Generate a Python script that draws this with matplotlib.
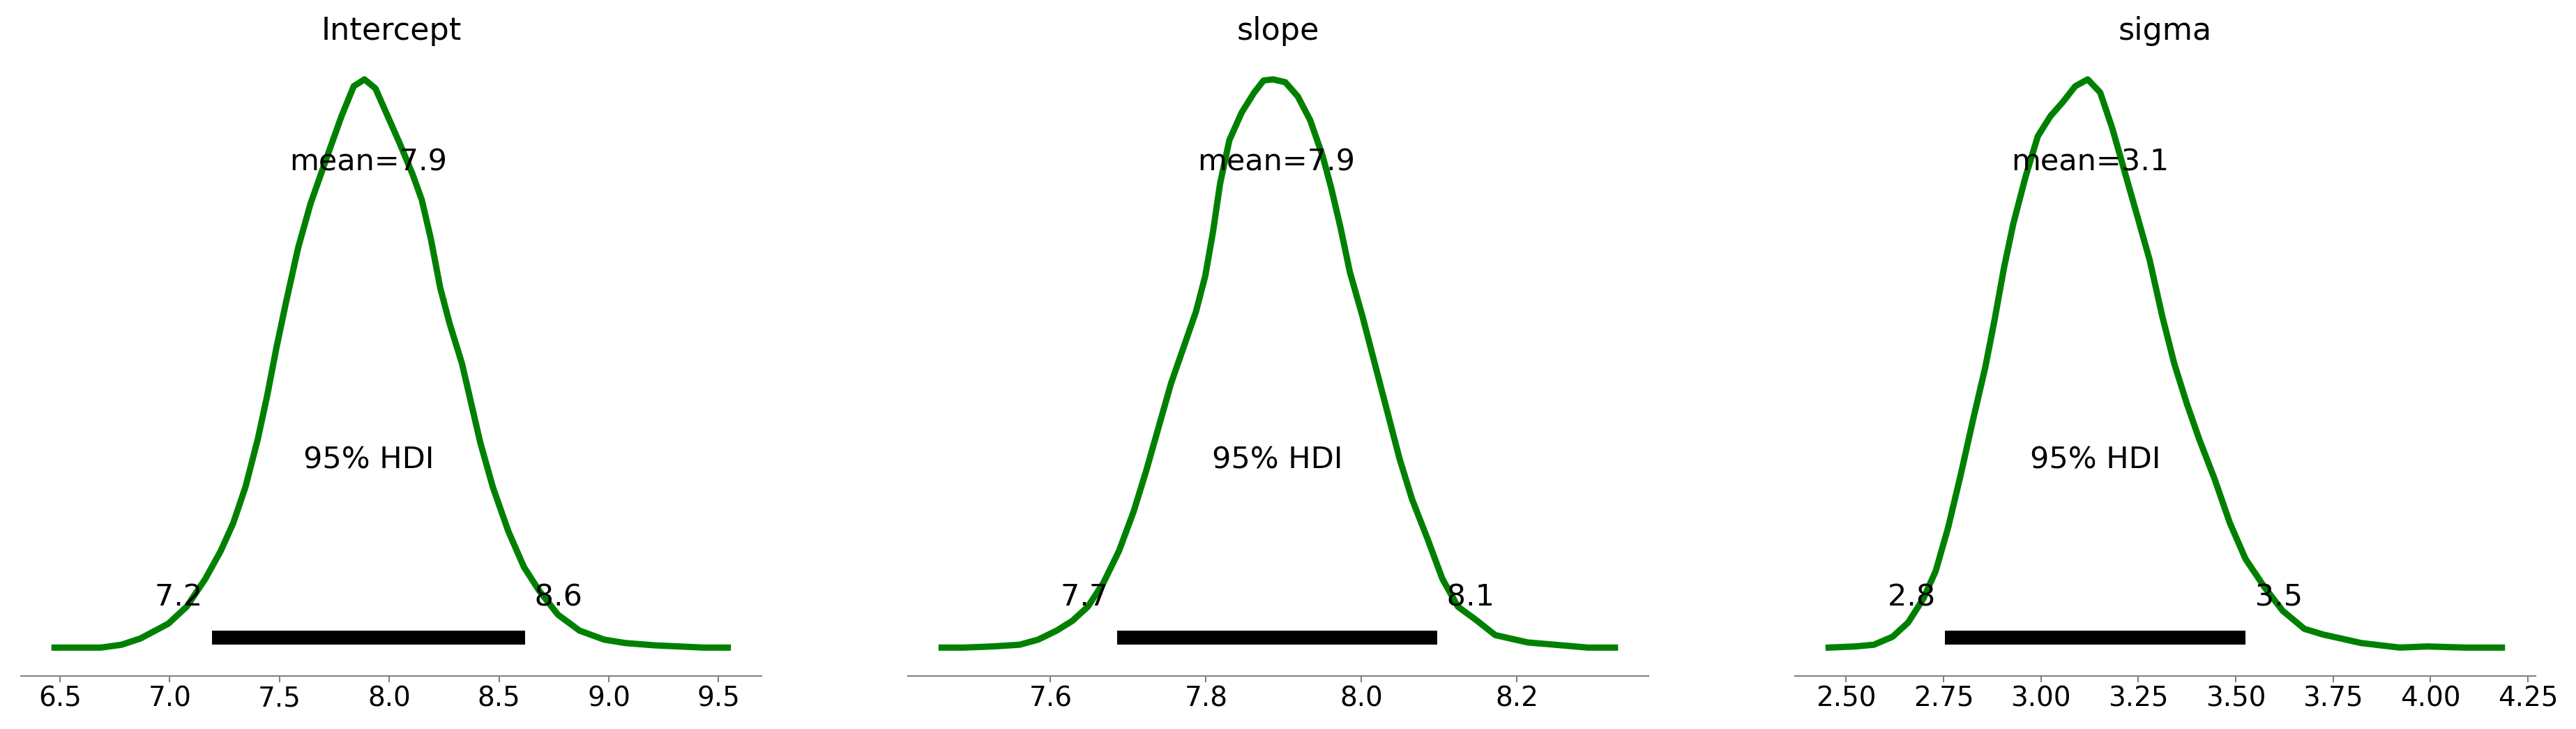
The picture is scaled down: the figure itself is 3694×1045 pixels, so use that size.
import matplotlib.pyplot as plt

# posterior densities (density scaled so peak = 1)
titles = ["Intercept", "slope", "sigma"]

x_intercept = [6.475, 6.686, 6.780, 6.866, 6.993, 7.077, 7.162, 7.232, 7.289, 7.345,
               7.401, 7.444, 7.486, 7.528, 7.585, 7.641, 7.711, 7.782, 7.838, 7.887,
               7.937, 7.993, 8.049, 8.106, 8.148, 8.190, 8.232, 8.275, 8.331, 8.373,
               8.415, 8.472, 8.542, 8.613, 8.683, 8.768, 8.866, 8.979, 9.075, 9.208,
               9.431, 9.542]
d_intercept = [0.0, 0.0, 0.005, 0.016, 0.042, 0.072, 0.121, 0.170, 0.219, 0.283,
               0.367, 0.444, 0.528, 0.605, 0.704, 0.781, 0.858, 0.935, 0.988, 1.0,
               0.984, 0.935, 0.886, 0.833, 0.788, 0.718, 0.633, 0.570, 0.500, 0.430,
               0.360, 0.282, 0.205, 0.142, 0.100, 0.058, 0.030, 0.014, 0.008, 0.004,
               0.0, 0.0]

x_slope = [7.460, 7.488, 7.525, 7.560, 7.584, 7.608, 7.628, 7.648, 7.668, 7.688,
           7.707, 7.723, 7.739, 7.755, 7.771, 7.787, 7.799, 7.809, 7.818, 7.830,
           7.846, 7.862, 7.874, 7.886, 7.902, 7.918, 7.934, 7.950, 7.961, 7.973,
           7.985, 8.001, 8.017, 8.033, 8.049, 8.065, 8.085, 8.104, 8.124, 8.147,
           8.172, 8.214, 8.249, 8.291, 8.326]
d_slope = [0.0, 0.0, 0.002, 0.005, 0.014, 0.030, 0.047, 0.072, 0.114, 0.170,
           0.240, 0.311, 0.388, 0.465, 0.528, 0.591, 0.654, 0.732, 0.816, 0.893,
           0.942, 0.977, 0.998, 1.0, 0.995, 0.970, 0.928, 0.865, 0.809, 0.739,
           0.661, 0.584, 0.500, 0.416, 0.332, 0.261, 0.191, 0.121, 0.072, 0.049,
           0.022, 0.009, 0.005, 0.0, 0.0]

x_sigma = [2.455, 2.523, 2.571, 2.619, 2.659, 2.698, 2.730, 2.762, 2.794, 2.826,
           2.857, 2.881, 2.905, 2.929, 2.961, 2.992, 3.024, 3.056, 3.088, 3.120,
           3.152, 3.183, 3.215, 3.247, 3.279, 3.311, 3.342, 3.374, 3.406, 3.446,
           3.485, 3.525, 3.573, 3.620, 3.676, 3.724, 3.770, 3.822, 3.921, 3.991,
           4.089, 4.183]
d_sigma = [0.0, 0.002, 0.005, 0.019, 0.044, 0.086, 0.135, 0.212, 0.304, 0.402,
           0.493, 0.577, 0.668, 0.746, 0.830, 0.900, 0.935, 0.960, 0.988, 1.0,
           0.977, 0.914, 0.837, 0.760, 0.682, 0.584, 0.500, 0.430, 0.367, 0.296,
           0.219, 0.156, 0.107, 0.065, 0.033, 0.023, 0.016, 0.008, 0.0, 0.002,
           0.0, 0.0]

xs = [x_intercept, x_slope, x_sigma]
ds = [d_intercept, d_slope, d_sigma]

means = [7.904, 7.890, 3.127]
hdi_low = [7.193, 7.686, 2.754]
hdi_high = [8.620, 8.097, 3.524]

xticks = [[6.5, 7.0, 7.5, 8.0, 8.5, 9.0, 9.5],
          [7.6, 7.8, 8.0, 8.2],
          [2.50, 2.75, 3.00, 3.25, 3.50, 3.75, 4.00, 4.25]]

fig = plt.figure(figsize=(36.94, 10.45), dpi=100)
lefts = [0.0081, 0.3525, 0.6968]

for i in range(3):
    ax = fig.add_axes([lefts[i], 0.0727, 0.2875, 0.8574])
    ax.plot(xs[i], ds[i], color="green", lw=6.5, solid_joinstyle="round")
    ax.margins(x=0.05, y=0.05)
    ph = ax.get_ylim()[1]

    ax.plot([hdi_low[i], hdi_high[i]], [ph * 0.0165, ph * 0.0165],
            color="k", lw=14.4, solid_capstyle="butt")
    ax.text(hdi_low[i], ph * 0.07, f"{hdi_low[i]:.1f} ", ha="right", fontsize=31)
    ax.text(hdi_high[i], ph * 0.07, f" {hdi_high[i]:.1f}", ha="left", fontsize=31)
    ax.text((hdi_low[i] + hdi_high[i]) / 2, ph * 0.3, "95% HDI", ha="center", fontsize=31)
    ax.text(means[i], ph * 0.8, f"mean={means[i]:.1f}", ha="center", fontsize=31)

    ax.set_title(titles[i], fontsize=32, pad=11.5)
    ax.set_xticks(xticks[i])
    ax.set_yticks([])
    for s in ["left", "right", "top"]:
        ax.spines[s].set_visible(False)
    ax.spines["bottom"].set_color("gray")
    ax.spines["bottom"].set_linewidth(1.5)
    ax.tick_params(axis="x", labelsize=28, color="gray", length=6.5, width=1.5)

fig.savefig("out.png", dpi=100)
